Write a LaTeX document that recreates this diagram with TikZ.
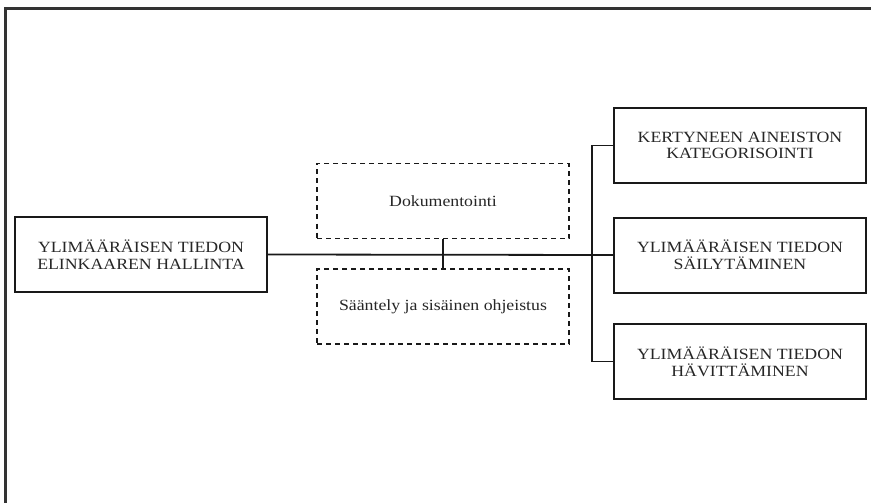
\documentclass[tikz,border=0pt]{standalone}
\usepackage{fontspec}
\setmainfont{Liberation Serif}[FakeStretch=1.14]
\usepackage{tikz}
\usetikzlibrary{positioning}
\tikzset{
  box/.style={rectangle, draw=black!90, line width=2pt, minimum width=252pt, minimum height=75pt, align=center, inner sep=0pt, text=black!85, font=\fontsize{15.6}{16.7}\selectfont},
  dbox/.style={box, line width=1.7pt, dash pattern=on 5pt off 4pt},
  ln/.style={draw=black!90, line width=1.8pt},
  frm/.style={draw=black!80, line width=2.2pt}
}
\begin{document}
\begin{tikzpicture}[x=1pt, y=-1pt]
        \useasboundingbox (0,0) rectangle (871,503);
        \draw[frm] (5.5,503) -- (5.5,8.5) -- (871,8.5);
        \node[box] (life) at (141,254.5) {YLIMÄÄRÄISEN TIEDON\\ELINKAAREN HALLINTA};
        \node[dbox] (doc) at (443,201) {Dokumentointi};
        \node[dbox] (reg) at (443,306.5) {Sääntely ja sisäinen ohjeistus};
        \node[box] (cat) at (740,145.5) {KERTYNEEN AINEISTON\\KATEGORISOINTI};
        \node[box] (keep) at (740,255) {YLIMÄÄRÄISEN TIEDON\\SÄILYTÄMINEN};
        \node[box] (dest) at (740,361.5) {YLIMÄÄRÄISEN TIEDON\\HÄVITTÄMINEN};
        \coordinate[left=21pt of cat.west] (bus);
        \draw[ln] (life.east) -- (keep.west);
        \draw[ln] (cat.west) -- (bus) |- (dest.west);
        \draw[ln] (doc.south) -- (reg.north);
      \end{tikzpicture}
\end{document}
